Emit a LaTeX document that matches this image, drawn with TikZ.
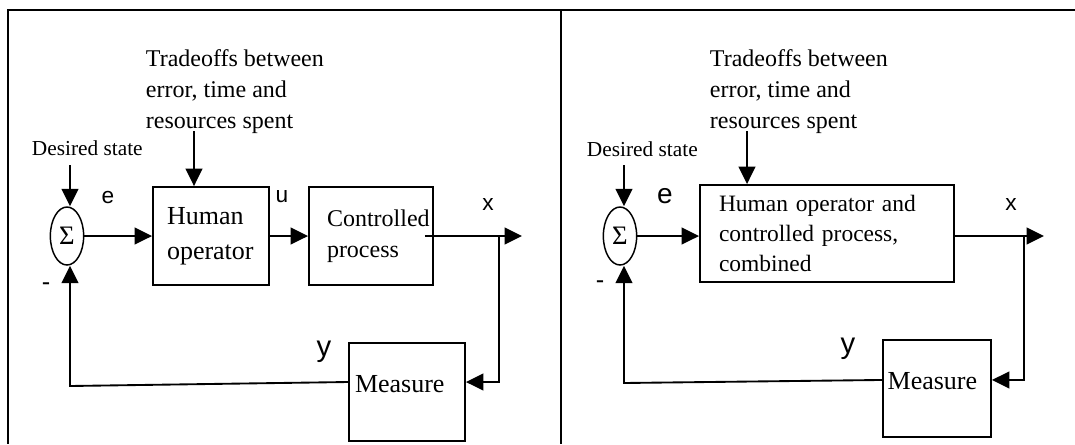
\documentclass[tikz,border=0pt]{standalone}
\usepackage{fontspec}
\setmainfont{Liberation Serif}
\newfontfamily\arialfont{Liberation Sans}
\usetikzlibrary{arrows.meta,shapes.geometric}
\begin{document}
\begin{tikzpicture}[x=0.75pt,y=-0.75pt,
  line width=1.4pt,
  arr/.style={-{Triangle[length=13pt,width=12.5pt]}},
  blk/.style={draw, rectangle, inner sep=0pt, align=left},
  sig/.style={draw, ellipse, line width=1.1pt, minimum width=25pt, minimum height=43.5pt, inner sep=0pt, font=\fontsize{20}{20}\selectfont},
  lbl/.style={font=\arialfont\fontsize{16}{16}\selectfont, inner sep=0pt},
  note/.style={align=left, anchor=north west, inner sep=0pt, font=\fontsize{18}{23.25}\selectfont},
  dstate/.style={anchor=west, inner sep=0pt, font=\fontsize{16}{16}\selectfont}
]
\useasboundingbox (0,0) rectangle (1075,444);
% frame
\draw (7,10) -- (1075,10);
\draw (8,10) -- (8,444);
\draw (561,10) -- (561,444);

% ---------------- left panel ----------------
\node[sig] (sL) at (67,236) {Σ};
\node[dstate] (dsL) at (31,148) {Desired state};
\node[note] (tL) at (145,49) {Tradeoffs between\\error, time and\\resources spent};
\node[blk, minimum width=87pt, minimum height=73.5pt, text width=66pt,
      font=\fontsize{19.5}{26.25}\selectfont] (ho) at (211,236) {Human\\operator};
\node[blk, minimum width=93pt, minimum height=73.5pt, text width=66pt,
      font=\fontsize{18}{23.25}\selectfont] (cp) at (371,236) {Controlled\\process};
\node[blk, minimum width=87pt, minimum height=73.5pt, text width=78pt,
      font=\fontsize{19.5}{19.5}\selectfont] (mL) at (407,392) {Measure\\[-14pt]\strut};
\node[lbl, font=\arialfont\fontsize{17}{17}\selectfont] (eL) at (108,198) {e};
\node[lbl, font=\arialfont\fontsize{17}{17}\selectfont] (uL) at (282,197) {u};
\node[lbl, font=\arialfont\fontsize{17}{17}\selectfont] (xL) at (488,205) {x};
\node[lbl, font=\arialfont\fontsize{22}{22}\selectfont] (yL) at (324,352) {y};
\node[lbl, font=\arialfont\fontsize{19}{19}\selectfont] (mnL) at (46,287) {-};

\coordinate (dtopL) at (70,165);
\coordinate (ttopL) at (194,131);
\coordinate (oendL) at (522,236);
\coordinate (brL) at (499,236);
\coordinate (fbL) at (70,386);

\draw[arr] (dtopL) -- (dtopL |- sL.north);
\draw[arr] (ttopL) -- (ttopL |- ho.north);
\draw[arr] (sL.east) -- (ho.west);
\draw[arr] (ho.east) -- (cp.west);
\draw[arr] ([xshift=-6.75pt]cp.east) -- (oendL);
\draw[arr] (brL) |- ([yshift=7.5pt]mL.east);
\draw[arr] ([yshift=7.5pt]mL.west) -- (fbL) -- (fbL |- sL.south);

% ---------------- right panel ----------------
\node[sig] (sR) at (620,236) {Σ};
\node[dstate] (dsR) at (586,149) {Desired state};
\node[note] (tR) at (709,49) {Tradeoffs between\\error, time and\\resources spent};
\node[blk, minimum width=190.5pt, minimum height=72.75pt, text width=162pt,
      font=\fontsize{17.6}{22.5}\selectfont] (hc) at (827,233.5) {Human operator and\\controlled process,\\combined};
\node[blk, minimum width=81pt, minimum height=72.75pt, text width=74pt,
      font=\fontsize{19.5}{19.5}\selectfont] (mR) at (937,388.5) {Measure\\[-14pt]\strut};
\node[lbl, font=\arialfont\fontsize{21}{21}\selectfont] (eR) at (665,196) {e};
\node[lbl, font=\arialfont\fontsize{17}{17}\selectfont] (xR) at (1011,205) {x};
\node[lbl, font=\arialfont\fontsize{22}{22}\selectfont] (yR) at (848,349) {y};
\node[lbl, font=\arialfont\fontsize{19}{19}\selectfont] (mnR) at (600,285) {-};

\coordinate (dtopR) at (624,165);
\coordinate (ttopR) at (747,131);
\coordinate (oendR) at (1044,236);
\coordinate (brR) at (1024,236);
\coordinate (fbR) at (624,383);

\draw[arr] (dtopR) -- (dtopR |- sR.north);
\draw[arr] (ttopR) -- (ttopR |- hc.north);
\draw[arr] (sR.east) -- (sR.east -| hc.west);
\draw[arr] (hc.east |- oendR) -- (oendR);
\draw[arr] (brR) |- ([yshift=6.4pt]mR.east);
\draw[arr] ([yshift=6.4pt]mR.west) -- (fbR) -- (fbR |- sR.south);
\end{tikzpicture}
\end{document}
